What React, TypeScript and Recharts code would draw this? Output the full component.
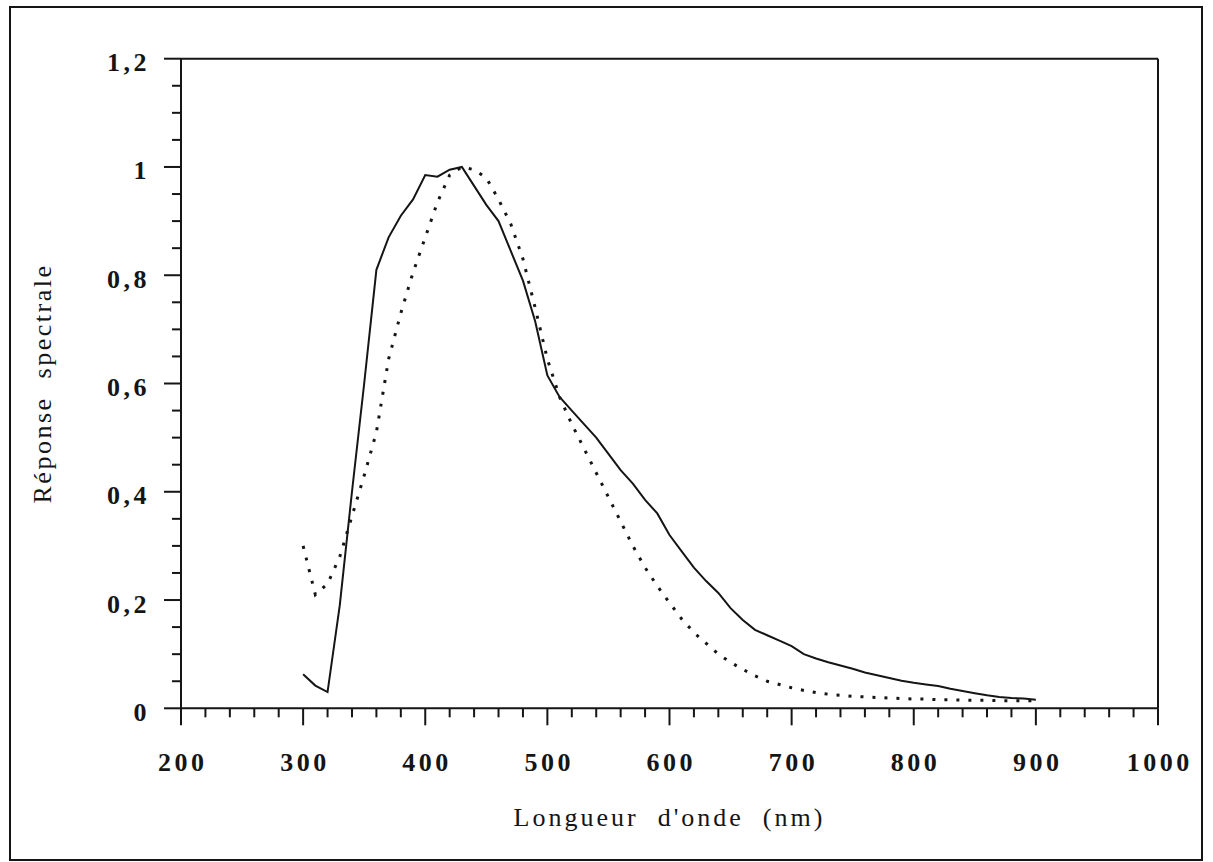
import React from 'react';
import { LineChart, Line, XAxis, YAxis, ReferenceLine } from 'recharts';

const wavelengths = [
  300, 310, 320, 330, 340, 350, 360, 370, 380, 390,
  400, 410, 420, 430, 440, 450, 460, 470, 480, 490,
  500, 510, 520, 530, 540, 550, 560, 570, 580, 590,
  600, 610, 620, 630, 640, 650, 660, 670, 680, 690,
  700, 710, 720, 730, 740, 750, 760, 770, 780, 790,
  800, 810, 820, 830, 840, 850, 860, 870, 880, 890,
  900,
];

const solidResponse = [
  0.063, 0.042, 0.03, 0.19, 0.4, 0.6, 0.81, 0.87, 0.91, 0.94,
  0.985, 0.982, 0.995, 1.0, 0.965, 0.93, 0.9, 0.845, 0.79, 0.715,
  0.615, 0.575, 0.55, 0.525, 0.5, 0.47, 0.44, 0.415, 0.385, 0.36,
  0.32, 0.29, 0.26, 0.235, 0.213, 0.185, 0.163, 0.145, 0.135, 0.125,
  0.115, 0.1, 0.092, 0.085, 0.079, 0.073, 0.066, 0.061, 0.056, 0.051,
  0.047, 0.044, 0.041, 0.036, 0.032, 0.028, 0.024, 0.021, 0.019, 0.018,
  0.016,
];

const dottedResponse = [
  0.3, 0.21, 0.23, 0.28, 0.355, 0.43, 0.51, 0.645, 0.73, 0.805,
  0.87, 0.935, 0.985, 1.0, 0.995, 0.98, 0.94, 0.895, 0.83, 0.74,
  0.645, 0.575, 0.525, 0.48, 0.435, 0.39, 0.345, 0.3, 0.26, 0.226,
  0.195, 0.165, 0.14, 0.12, 0.1, 0.085, 0.072, 0.06, 0.05, 0.044,
  0.038, 0.033, 0.029, 0.026, 0.024, 0.022, 0.021, 0.02, 0.019, 0.018,
  0.017, 0.017, 0.016, 0.016, 0.015, 0.015, 0.015, 0.014, 0.014, 0.014,
  0.014,
];

const xTicks = [
  200, 220, 240, 260, 280, 300, 320, 340, 360, 380,
  400, 420, 440, 460, 480, 500, 520, 540, 560, 580,
  600, 620, 640, 660, 680, 700, 720, 740, 760, 780,
  800, 820, 840, 860, 880, 900, 920, 940, 960, 980,
  1000,
];
const xMajorTicks = [200, 300, 400, 500, 600, 700, 800, 900, 1000];

const yTicks = [
  0, 0.05, 0.1, 0.15, 0.2, 0.25, 0.3, 0.35, 0.4, 0.45,
  0.5, 0.55, 0.6, 0.65, 0.7, 0.75, 0.8, 0.85, 0.9, 0.95,
  1, 1.05, 1.1, 1.15, 1.2,
];
const yMajorTicks = [0, 0.2, 0.4, 0.6, 0.8, 1, 1.2];
const yMajorLabels = ['0', '0,2', '0,4', '0,6', '0,8', '1', '1,2'];

const xTitle = "Longueur  d'onde  (nm)";
const yTitle = 'Réponse  spectrale';

const data = wavelengths.map((nm, i) => ({
  nm,
  solid: solidResponse[i],
  dotted: dottedResponse[i],
}));

const W = 1213;
const H = 862;
const PLOT_LEFT = 181;
const PLOT_RIGHT = 1158;
const PLOT_TOP = 58.7;
const PLOT_BOTTOM = 708.3;
const INK = '#151515';
const FONT = '"Liberation Serif", "DejaVu Serif", serif';

const XTick = (props: any) => {
  const { x, payload } = props;
  const v = payload.value;
  const major = xMajorTicks.includes(v);
  return (
    <g>
      <line x1={x} x2={x} y1={PLOT_BOTTOM} y2={PLOT_BOTTOM + (major ? 17 : 9)} stroke={INK} strokeWidth={2} />
      {major && (
        <text
          x={x + 1.75}
          y={PLOT_BOTTOM + 54}
          textAnchor="middle"
          dominantBaseline="central"
          fontFamily={FONT}
          fontWeight="bold"
          fontSize={26}
          letterSpacing={3.5}
          fill={INK}
        >
          {String(v)}
        </text>
      )}
    </g>
  );
};

const YTick = (props: any) => {
  const { y, payload } = props;
  const v = payload.value;
  const idx = yMajorTicks.findIndex((m) => Math.abs(m - v) < 1e-6);
  const major = idx >= 0;
  return (
    <g>
      <line x1={PLOT_LEFT} x2={PLOT_LEFT - (major ? 17 : 9)} y1={y} y2={y} stroke={INK} strokeWidth={2} />
      {major && (
        <text
          x={PLOT_LEFT - 31}
          y={y + 4}
          textAnchor="end"
          dominantBaseline="central"
          fontFamily={FONT}
          fontWeight="bold"
          fontSize={26}
          letterSpacing={3.5}
          fill={INK}
        >
          {yMajorLabels[idx]}
        </text>
      )}
    </g>
  );
};

export default function App() {
  return (
    <div style={{ position: 'absolute', left: 0, top: 0, width: W, height: H, background: '#fff', overflow: 'hidden' }}>
      <div
        style={{
          position: 'absolute',
          left: 9,
          top: 6,
          width: 1190,
          height: 851,
          border: `2px solid ${INK}`,
        }}
      />
      <div style={{ position: 'absolute', left: 0, top: 0 }}>
        <LineChart
          width={W}
          height={H}
          data={data}
          margin={{ top: PLOT_TOP, right: W - PLOT_RIGHT, bottom: H - PLOT_BOTTOM - 30, left: PLOT_LEFT - 60 }}
        >
          <XAxis
            dataKey="nm"
            type="number"
            domain={[200, 1000]}
            ticks={xTicks}
            interval={0}
            height={30}
            tickLine={false}
            axisLine={{ stroke: INK, strokeWidth: 2 }}
            tick={(p: any) => <XTick {...p} />}
            allowDataOverflow
          />
          <YAxis
            type="number"
            domain={[0, 1.2]}
            ticks={yTicks}
            interval={0}
            width={60}
            tickLine={false}
            axisLine={{ stroke: INK, strokeWidth: 2 }}
            tick={(p: any) => <YTick {...p} />}
            allowDataOverflow
          />
          <ReferenceLine y={1.2} stroke={INK} strokeWidth={2} />
          <ReferenceLine x={1000} stroke={INK} strokeWidth={2} />
          <Line
            type="linear"
            dataKey="dotted"
            stroke={INK}
            strokeWidth={3}
            strokeDasharray="3 9"
            dot={false}
            isAnimationActive={false}
          />
          <Line
            type="linear"
            dataKey="solid"
            stroke={INK}
            strokeWidth={2}
            dot={false}
            isAnimationActive={false}
          />
        </LineChart>
      </div>
      <svg width={W} height={H} style={{ position: 'absolute', left: 0, top: 0, pointerEvents: 'none' }}>
        <text
          x={(PLOT_LEFT + PLOT_RIGHT) / 2}
          y={817}
          textAnchor="middle"
          dominantBaseline="central"
          fontFamily={FONT}
          fontSize={26}
          letterSpacing={3}
          fill={INK}
          style={{ whiteSpace: 'pre' }}
        >
          {xTitle}
        </text>
        <text
          x={42}
          y={(PLOT_TOP + PLOT_BOTTOM) / 2}
          textAnchor="middle"
          dominantBaseline="central"
          fontFamily={FONT}
          fontSize={26}
          letterSpacing={2.5}
          fill={INK}
          transform={`rotate(-90 42 ${(PLOT_TOP + PLOT_BOTTOM) / 2})`}
          style={{ whiteSpace: 'pre' }}
        >
          {yTitle}
        </text>
      </svg>
    </div>
  );
}
